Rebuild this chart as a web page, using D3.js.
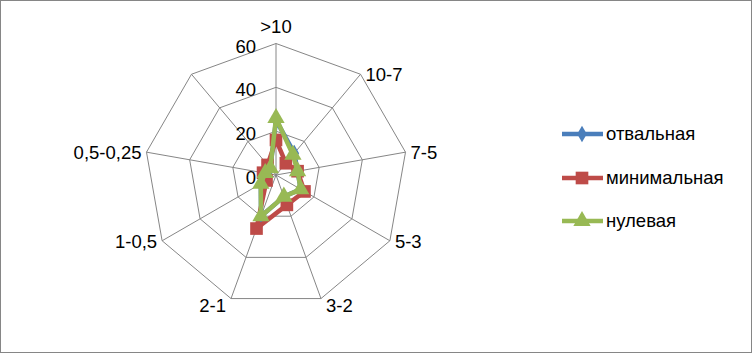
<!doctype html>
<html lang="ru">
<head>
<meta charset="utf-8">
<title>Radar</title>
<script src="https://cdn.jsdelivr.net/npm/d3@7"></script>
<style>
  body { margin: 0; background: #fff; }
  text { font-family: "Liberation Sans", Arial, sans-serif; fill: #000; font-size: 18.5px; }
</style>
</head>
<body>
<div id="viz"></div>
<script>
// categories (axes), clockwise from the top
var categories = [">10", "10-7", "7-5", "5-3", "3-2", "2-1", "1-0,5", "0,5-0,25", ""];
var tickValues = [0, 20, 40, 60];

var seriesNames = ["отвальная", "минимальная", "нулевая"];
var otvalnaya   = [25, 13, 10, 13, 10.5, 20, 8, 5, 4];
var minimalnaya = [16, 7, 10, 15, 14.5, 26, 5, 6, 6];
var nulevaya    = [26, 12, 10, 13, 10.5, 20, 8, 5, 4];
var colors = ["#4a7ebb", "#be4b48", "#98b954"];

var w = 752, h = 353;
var cx = 276, cy = 175, R = 131.5;

var svg = d3.select("#viz").append("svg")
  .attr("width", w).attr("height", h);

svg.append("rect")
  .attr("x", 0.5).attr("y", 0.5)
  .attr("width", w - 1).attr("height", h - 1)
  .attr("fill", "#fff").attr("stroke", "#868686");

var angle = d3.scaleLinear().domain([0, categories.length]).range([0, 2 * Math.PI]);
var r = d3.scaleLinear().domain([0, 60]).range([0, R]);

function pt(i, v) {
  var a = angle(i);
  return [cx + r(v) * Math.sin(a), cy - r(v) * Math.cos(a)];
}

var g = svg.append("g");

// grid rings
tickValues.slice(1).forEach(function(t) {
  g.append("path")
    .attr("d", d3.line()(categories.map(function(c, i) { return pt(i, t); })) + "Z")
    .attr("fill", "none").attr("stroke", "#868686").attr("stroke-width", 1);
});

// spokes
categories.forEach(function(c, i) {
  var p = pt(i, 60);
  g.append("line")
    .attr("x1", cx).attr("y1", cy).attr("x2", p[0]).attr("y2", p[1])
    .attr("stroke", "#868686").attr("stroke-width", 1);
});

// tick labels
tickValues.forEach(function(t) {
  g.append("text")
    .attr("x", cx - 20).attr("y", cy - r(t) + 9)
    .attr("text-anchor", "end")
    .text(t);
});

// category labels
categories.forEach(function(c, i) {
  var p = pt(i, 60);
  var a = angle(i), s = Math.sin(a), co = Math.cos(a);
  var anchor, x = p[0], y;
  if (Math.abs(s) < 0.1) { anchor = "middle"; y = p[1] - 11; }
  else {
    anchor = s > 0 ? "start" : "end";
    x += s > 0 ? 5 : -5;
    y = co < -0.8 ? p[1] + 13 : p[1] + 7;
  }
  g.append("text")
    .attr("x", x).attr("y", y)
    .attr("text-anchor", anchor)
    .text(c);
});

var data = [otvalnaya, minimalnaya, nulevaya];
var radarLine = d3.line().x(function(d, i) { return pt(i, d)[0]; }).y(function(d, i) { return pt(i, d)[1]; })
  .curve(d3.curveLinearClosed);

var symbols = [d3.symbolDiamond, d3.symbolSquare, d3.symbolTriangle];
var sizes = [80, 160, 130];

data.forEach(function(vals, k) {
  g.append("path")
    .attr("d", radarLine(vals))
    .attr("fill", "none").attr("stroke", colors[k]).attr("stroke-width", 4.5)
    .attr("stroke-linejoin", "round");
  g.selectAll(".m" + k).data(vals).enter()
    .append("path")
    .attr("transform", function(d, i) { var p = pt(i, d); return "translate(" + p[0] + "," + p[1] + ")"; })
    .attr("d", d3.symbol().type(symbols[k]).size(sizes[k]))
    .attr("fill", colors[k]);
});

// legend
var legend = svg.append("g");
var legendY = [134, 178, 221];
seriesNames.forEach(function(name, k) {
  var y = legendY[k];
  legend.append("line")
    .attr("x1", 562).attr("x2", 603).attr("y1", y).attr("y2", y)
    .attr("stroke", colors[k]).attr("stroke-width", 4.5);
  legend.append("path")
    .attr("transform", "translate(582," + y + ")")
    .attr("d", d3.symbol().type(symbols[k]).size(sizes[k]))
    .attr("fill", colors[k]);
  legend.append("text")
    .attr("x", 606).attr("y", y + 6)
    .text(name);
});
</script>
</body>
</html>
